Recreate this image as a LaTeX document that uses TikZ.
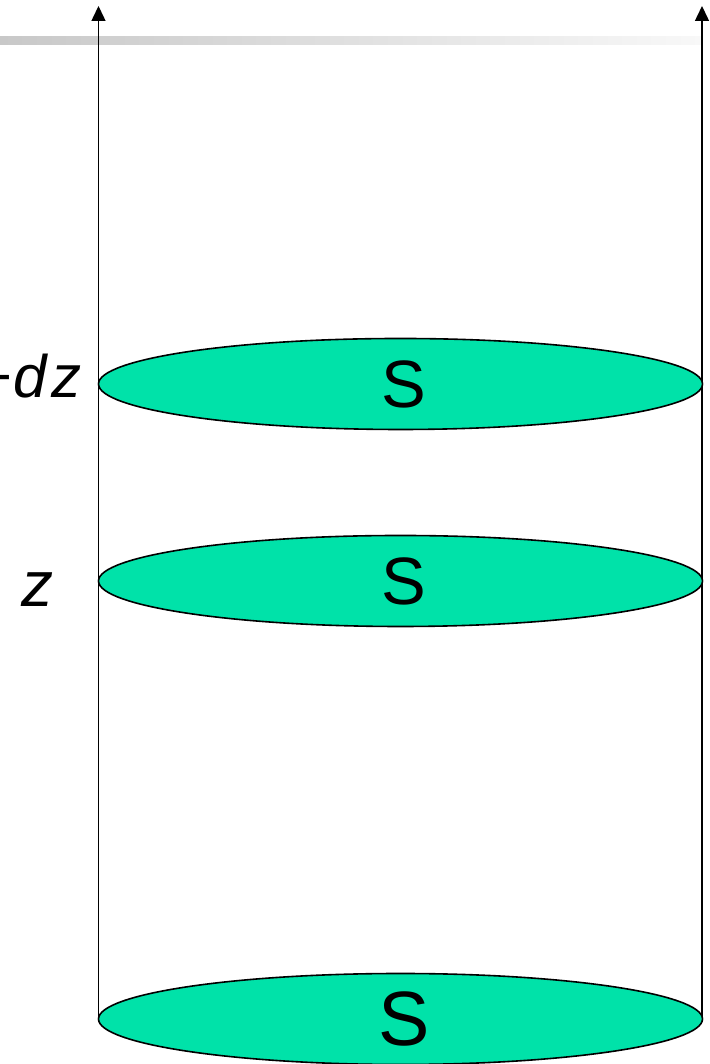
\documentclass[tikz,border=0pt]{standalone}
\usepackage{fontspec}
\setmainfont{Liberation Sans}
\usetikzlibrary{shapes.geometric,arrows.meta}
\definecolor{disc}{HTML}{00E2A9}
\definecolor{barL}{HTML}{C8C8C8}
\definecolor{barR}{HTML}{F8F8F8}
\tikzset{
  disk/.style={ellipse, draw=black, line width=1.6pt, fill=disc, minimum width=604pt, minimum height=91pt, inner sep=0pt},
  axis/.style={line width=1.4pt, -{Triangle[width=14pt,length=15pt]}},
  lbl/.style={inner sep=0pt, font=\fontsize{60}{62}\selectfont\itshape},
  stxt/.style={inner sep=0pt, font=\fontsize{67}{69}\selectfont},
}
\begin{document}
\begin{tikzpicture}[x=1pt,y=1pt]
\useasboundingbox (0,0) rectangle (709,1064);
\shade[left color=barL, right color=barR] (0,1019) rectangle (702,1027);
\coordinate (tl) at (98.5,1058);
\coordinate (tr) at (702,1058);
\coordinate (bl) at (98.5,45);
\coordinate (br) at (702,45);
\draw[axis] (bl) -- (tl);
\draw[axis] (br) -- (tr);
\node[disk] (s1) at (400.5,45) {};
\node[disk] (s2) at (400.5,483) {};
\node[disk] (s3) at (400.5,680) {};
\node[stxt, font=\fontsize{77}{79}\selectfont] (t1) at ([xshift=3.5pt]s1.center) {S};
\node[stxt] (t2) at ([xshift=3.5pt]s2.center) {S};
\node[stxt] (t3) at ([xshift=3.5pt]s3.center) {S};
\node[lbl, anchor=base east] (zdz) at (82,666) {z+\kern2pt d\kern5pt z};
\node[lbl, font=\fontsize{64}{66}\selectfont\itshape, anchor=base] (z) at (37,457) {z};
\end{tikzpicture}
\end{document}
